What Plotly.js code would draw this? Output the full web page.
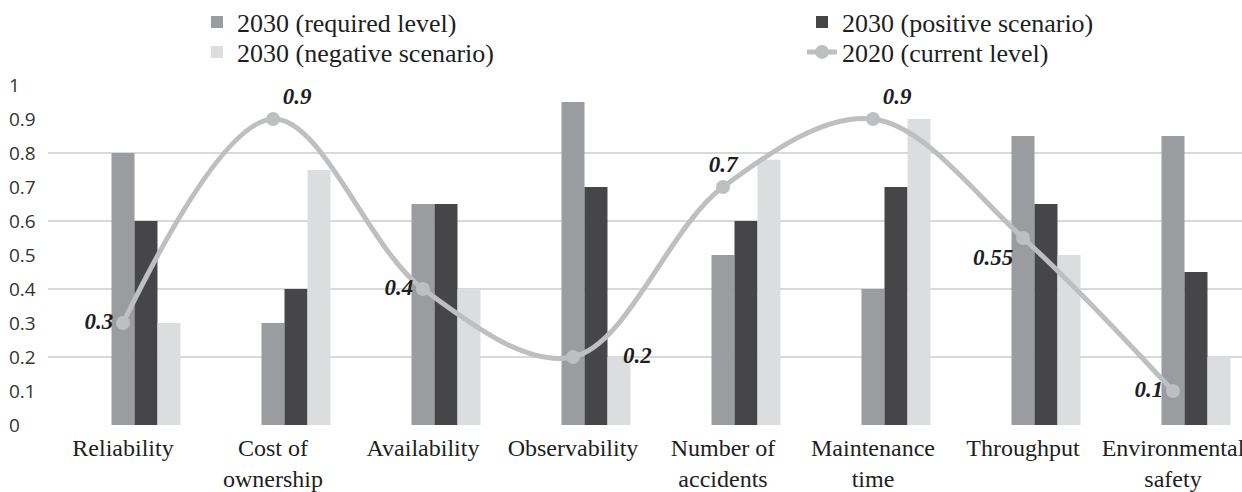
<!DOCTYPE html>
<html>
<head>
<meta charset="utf-8">
<script src="https://cdn.plot.ly/plotly-3.0.1.min.js"></script>
<style>html,body{margin:0;padding:0;background:#fff;}#chart{width:1242px;height:492px;}</style>
</head>
<body>
<div id="chart"></div>
<script>
const categories = ["Reliability", "Cost of<br>ownership", "Availability", "Observability", "Number of<br>accidents", "Maintenance<br>time", "Throughput", "Environmental<br>safety"];
const required2030 = [0.8, 0.3, 0.65, 0.95, 0.5, 0.4, 0.85, 0.85];
const positive2030 = [0.6, 0.4, 0.65, 0.7, 0.6, 0.7, 0.65, 0.45];
const negative2030 = [0.3, 0.75, 0.4, 0.2, 0.78, 0.9, 0.5, 0.2];
const current2020 = [0.3, 0.9, 0.4, 0.2, 0.7, 0.9, 0.55, 0.1];
const currentLabels = ["0.3", "0.9", "0.4", "\u00a0\u00a0\u00a0\u00a0\u00a0\u00a0\u00a00.2", "0.7", "0.9", "0.55", "0.1"];
const yTickVals = [0, 0.1, 0.2, 0.3, 0.4, 0.5, 0.6, 0.7, 0.8, 0.9, 1];
const yTickText = ["0", "0.1", "0.2", "0.3", "0.4", "0.5", "0.6", "0.7", "0.8", "0.9", "1"];

const idx = categories.map((c, i) => i);
const barW = 0.1533;
const serif = "Liberation Serif, Times New Roman, serif";

const traces = [
  {type: "bar", name: "2030 (required level)", legend: "legend", x: idx, y: required2030, width: barW, offset: -barW * 0.5, marker: {color: "#9a9c9f"}},
  {type: "bar", name: "2030 (positive scenario)", legend: "legend", x: idx, y: positive2030, width: barW, offset: barW * 0.5, marker: {color: "#464648"}},
  {type: "bar", name: "2030 (negative scenario)", legend: "legend2", x: idx, y: negative2030, width: barW, offset: barW * 1.5, marker: {color: "#dcdddf"}},
  {type: "scatter", mode: "lines+markers+text", name: "2020 (current level)", legend: "legend2", x: idx, y: current2020,
   line: {color: "#bebfc0", width: 5, shape: "spline", smoothing: 1},
   marker: {color: "#bebfc0", size: 14},
   text: currentLabels,
   textposition: ["middle left", "top right", "middle left", "middle right", "top center", "top right", "bottom left", "middle left"],
   textfont: {family: serif, size: 23, color: "#1e1e1e", weight: "bold", style: "italic"},
   cliponaxis: false}
];

const legendBase = {
  orientation: "h", xref: "container", yref: "container",
  x: 197 / 1242, xanchor: "left", yanchor: "middle",
  entrywidth: 560, entrywidthmode: "pixels",
  font: {family: serif, size: 26, color: "#1e1e1e"},
  traceorder: "normal", itemwidth: 30, bgcolor: "rgba(0,0,0,0)"
};

const layout = {
  width: 1242, height: 492,
  margin: {l: 8, r: 0, t: 85, b: 67},
  paper_bgcolor: "#fff", plot_bgcolor: "#fff",
  barmode: "overlay",
  showlegend: true,
  legend: Object.assign({}, legendBase, {y: 1 - 22 / 492}),
  legend2: Object.assign({}, legendBase, {y: 1 - 52 / 492}),
  xaxis: {
    domain: [40 / 1234, 1],
    range: [-0.5, 7.46],
    tickmode: "array", tickvals: idx, ticktext: categories,
    tickfont: {family: serif, size: 24, color: "#1e1e1e"},
    ticklabelstandoff: 6, ticklabeloverflow: "allow",
    showgrid: false, zeroline: false, showline: false, ticks: "",
    automargin: false, fixedrange: true
  },
  yaxis: {
    range: [0, 1],
    anchor: "free", position: 0, side: "right",
    tickmode: "array", tickvals: yTickVals, ticktext: yTickText,
    tickfont: {family: "Open Sans, Liberation Sans, sans-serif", size: 19, color: "#333"},
    showgrid: false, zeroline: false, showline: false, ticks: "",
    minor: {tickmode: "linear", tick0: 0, dtick: 0.2, showgrid: true, gridcolor: "#d9d9d9", gridwidth: 2.5, ticks: ""},
    automargin: false, fixedrange: true
  }
};

Plotly.newPlot("chart", traces, layout, {displayModeBar: false, staticPlot: true});
</script>
</body>
</html>
